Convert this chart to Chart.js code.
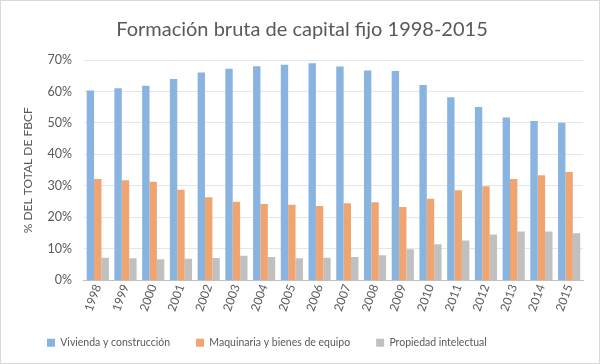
<!DOCTYPE html>
<html><head><meta charset="utf-8">
<script src="https://cdn.jsdelivr.net/npm/chart.js@4"></script>
<style>html,body{margin:0;padding:0;background:#fff}#w{width:600px;height:364px}</style>
</head><body><div id="w"><canvas id="c" width="600" height="364"></canvas></div>
<script>
const categories = ["1998","1999","2000","2001","2002","2003","2004","2005","2006","2007","2008","2009","2010","2011","2012","2013","2014","2015"];
const vivienda = [60.3,61.0,61.8,64.0,66.0,67.2,68.0,68.5,69.0,67.9,66.7,66.5,62.1,58.2,55.1,51.7,50.6,50.1];
const maquinaria = [32.2,31.8,31.3,28.8,26.4,25.0,24.3,24.0,23.6,24.5,24.8,23.3,25.9,28.6,29.9,32.2,33.4,34.4];
const propiedad = [7.2,7.0,6.7,6.9,7.1,7.8,7.4,7.0,7.2,7.4,8.0,9.9,11.5,12.7,14.6,15.5,15.5,15.0];
const seriesNames = ["Vivienda y construcción","Maquinaria y bienes de equipo","Propiedad intelectual"];
const yTicks = [0,10,20,30,40,50,60,70];
const txt = '#595959';
const FONT = 'Lato, "Open Sans", sans-serif';
const border = {id:'border', afterDraw(ch){const c=ch.ctx;c.save();c.strokeStyle='#d9d9d9';c.lineWidth=1;c.strokeRect(0.5,0.5,ch.width-1,ch.height-1);c.restore();}};
const legendShift = {id:'legendShift', afterLayout(ch){ if(ch.legend){ ch.legend.top -= 4; ch.legend.bottom -= 4; } }};
new Chart(document.getElementById('c'), {
  type:'bar',
  data:{labels:categories, datasets:[
    {label:seriesNames[0], data:vivienda, backgroundColor:'#8AB4E0'},
    {label:seriesNames[1], data:maquinaria, backgroundColor:'#F0A470'},
    {label:seriesNames[2], data:propiedad, backgroundColor:'#C0C0C0'}
  ]},
  options:{
    responsive:false, animation:false,
    layout:{padding:{left:21,right:17,top:2,bottom:2}},
    datasets:{bar:{categoryPercentage:0.8,barPercentage:1.0}},
    plugins:{
      title:{display:true,text:'Formación bruta de capital fijo 1998-2015',color:txt,font:{family:FONT,size:20,weight:'normal'},padding:{top:16,bottom:18}},
      legend:{position:'bottom',align:'start',labels:{color:txt,font:{family:FONT,size:10.5},boxWidth:8,boxHeight:8,padding:26}},
      tooltip:{enabled:false}
    },
    scales:{
      x:{grid:{display:false,drawTicks:false},border:{color:'#bfbfbf'},ticks:{color:txt,font:{family:FONT,size:12},minRotation:70,maxRotation:70,padding:2,autoSkip:false}},
      y:{min:0,max:70,afterBuildTicks(ax){ax.ticks=yTicks.map(v=>({value:v}));},
        grid:{color:'#e6e6e6',drawTicks:false},border:{display:false},
        ticks:{color:txt,font:{family:FONT,size:12.5},padding:12,callback:v=>v+'%'},
        title:{display:true,text:'% DEL TOTAL DE FBCF',color:txt,font:{family:FONT,size:12},padding:{top:0,bottom:0}}}
    }
  },
  plugins:[border, legendShift]
});
</script></body></html>
